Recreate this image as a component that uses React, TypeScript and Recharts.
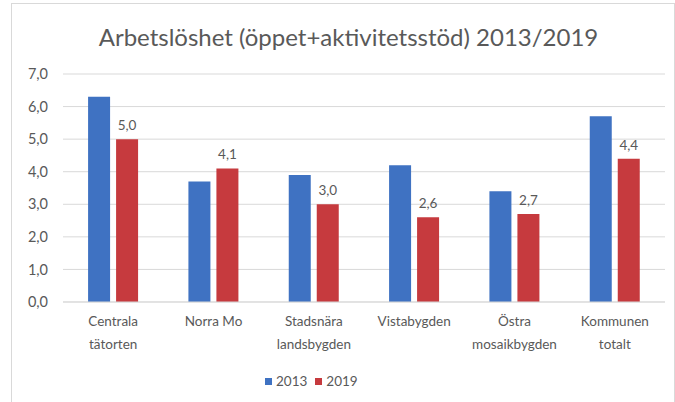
import { BarChart, Bar, XAxis, YAxis, CartesianGrid, LabelList } from "recharts";

const categories = ["Centrala\ntätorten", "Norra Mo", "Stadsnära\nlandsbygden", "Vistabygden", "Östra\nmosaikbygden", "Kommunen\ntotalt"];
const values2013 = [6.3, 3.7, 3.9, 4.2, 3.4, 5.7];
const values2019 = [5.0, 4.1, 3.0, 2.6, 2.7, 4.4];
const yTicks = [0, 1, 2, 3, 4, 5, 6, 7];

const BLUE = "#3f72c2";
const RED = "#c63a3e";
const TEXT = "#595959";
const FONT = "Lato, 'Open Sans', sans-serif";

const data = categories.map((name, i) => ({ name, y2013: values2013[i], y2019: values2019[i] }));

const fmt = (v: number) => v.toFixed(1).replace(".", ",");

const CatTick = ({ x, y, payload }: any) => {
  const lines = String(payload.value).split("\n");
  return (
    <text x={x} y={y} textAnchor="middle" fill={TEXT} fontSize={13.5} fontFamily={FONT}>
      {lines.map((l, i) => (
        <tspan key={i} x={x} dy={i === 0 ? 14 : 23}>{l}</tspan>
      ))}
    </text>
  );
};

export default function App() {
  return (
    <div style={{ position: "fixed", left: 0, top: 0, width: 675, height: 402, background: "#fff", overflow: "hidden" }}>
      <div style={{ position: "absolute", left: 11, top: 3, width: 662, height: 420, border: "1px solid #d9d9d9" }} />
      <div style={{ position: "absolute", left: 0, top: 22, width: 675, textAlign: "center", fontFamily: FONT, fontSize: 24, color: TEXT }}>
        <span style={{ position: "relative", left: 11 }}>Arbetslöshet (öppet+aktivitetsstöd) 2013/2019</span>
      </div>
      <div style={{ position: "absolute", left: 0, top: 0 }}>
        <BarChart
          width={675}
          height={402}
          data={data}
          margin={{ top: 74, right: 10, bottom: 40, left: 0 }}
          barCategoryGap="25%"
          barGap={6}
        >
          <CartesianGrid horizontal vertical={false} stroke="#d9d9d9" />
          <XAxis
            dataKey="name"
            tick={<CatTick />}
            tickLine={false}
            axisLine={{ stroke: "#d9d9d9" }}
            interval={0}
            height={60}
            tickMargin={4}
          />
          <YAxis
            width={63}
            domain={[0, 7]}
            ticks={yTicks}
            tickFormatter={fmt}
            tickLine={false}
            axisLine={false}
            tickSize={0}
            tickMargin={15}
            tick={{ fill: TEXT, fontSize: 14.5, fontFamily: FONT }}
          />
          <Bar dataKey="y2013" name="2013" fill={BLUE} isAnimationActive={false} />
          <Bar dataKey="y2019" name="2019" fill={RED} isAnimationActive={false}>
            <LabelList dataKey="y2019" position="top" offset={9} formatter={(v: any) => fmt(Number(v))} fill={TEXT} fontSize={13.5} fontFamily={FONT} />
          </Bar>
        </BarChart>
      </div>
      <div style={{ position: "absolute", left: 265, top: 373, display: "flex", alignItems: "center", fontFamily: FONT, fontSize: 13.5, color: TEXT }}>
        <span style={{ width: 7, height: 7, background: BLUE, display: "inline-block", marginRight: 4 }} />
        <span style={{ marginRight: 8 }}>2013</span>
        <span style={{ width: 7, height: 7, background: RED, display: "inline-block", marginRight: 4 }} />
        <span>2019</span>
      </div>
    </div>
  );
}
